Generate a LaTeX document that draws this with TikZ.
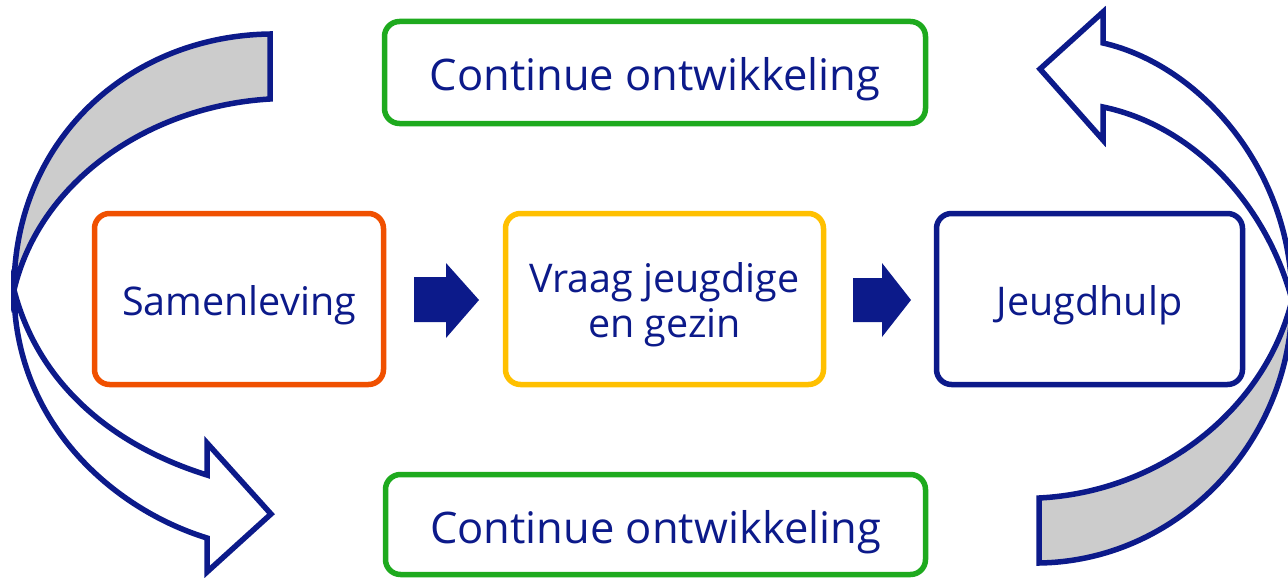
\documentclass[tikz,border=0pt]{standalone}
\usepackage{fontspec}
\setmainfont{Open Sans}
\definecolor{navy}{RGB}{12,26,138}
\definecolor{orng}{RGB}{240,80,0}
\definecolor{yell}{RGB}{255,192,0}
\definecolor{grn}{RGB}{30,170,30}
\definecolor{ribbon}{RGB}{204,204,204}
\tikzset{
  box/.style={draw, line width=5.5pt, rounded corners=15pt, align=center,
    text=navy, inner sep=0pt},
  bigtext/.style={font=\fontsize{43.5pt}{50pt}\selectfont, text height=42pt, text depth=5pt},
  midtext/.style={font=\fontsize{39.5pt}{45pt}\selectfont, text height=38pt, text depth=6pt},
  curvedarrow/.style={draw=navy, line width=5.5pt, line join=miter},
  blockarrow/.style={fill=navy, draw=none}
}
\begin{document}
\begin{tikzpicture}[x=1pt,y=-1pt]
\useasboundingbox (0,0) rectangle (1288,578);
\clip (0,0) rectangle (1288,578);

% left curved arrow: back side (grey) and front side (white)
\path[curvedarrow, fill=ribbon]
  (270,34) .. controls (129,36) and (14,140) .. (14,290)
  .. controls (40,180) and (150,106) .. (270,99) -- cycle;
\path[curvedarrow, fill=white]
  (14,290) .. controls (40,390) and (120,448) .. (207,475)
  -- (207,443) -- (271,514) -- (207,572) -- (207,538)
  .. controls (110,508) and (14,420) .. (14,290) -- cycle;

% right curved arrow
\path[curvedarrow, fill=ribbon]
  (1039,563) .. controls (1180,561) and (1292,440) .. (1292,300)
  .. controls (1265,410) and (1160,492) .. (1039,498) -- cycle;
\path[curvedarrow, fill=white]
  (1292,300) .. controls (1265,200) and (1190,125) .. (1103,107)
  -- (1103,140) -- (1040,69) -- (1103,12) -- (1103,43)
  .. controls (1200,65) and (1292,170) .. (1292,300) -- cycle;

% boxes
\node[box, bigtext, draw=grn, minimum width=541pt, minimum height=102pt] (top) at (655,72.5) {Continue ontwikkeling};
\node[box, bigtext, draw=grn, minimum width=540pt, minimum height=100pt] (bot) at (655.5,524.5) {Continue ontwikkeling};
\node[box, midtext, draw=orng, minimum width=289pt, minimum height=171pt] (sam) at (239,299) {Samenleving};
\node[box, midtext, text height=81pt, text depth=5pt, draw=yell, minimum width=318pt, minimum height=171pt] (vraag) at (664.5,299) {Vraag jeugdige\\en gezin};
\node[box, midtext, draw=navy, minimum width=306pt, minimum height=171pt] (jeugd) at (1089.5,299) {Jeugdhulp};

% block arrows between boxes
\path[blockarrow] (414,277) -- (446,277) -- (446,263) -- (479,300) -- (446,338) -- (446,322) -- (414,322) -- cycle;
\path[blockarrow] (853,278) -- (882,278) -- (882,263) -- (911,300) -- (882,337) -- (882,322) -- (853,322) -- cycle;
\end{tikzpicture}
\end{document}
